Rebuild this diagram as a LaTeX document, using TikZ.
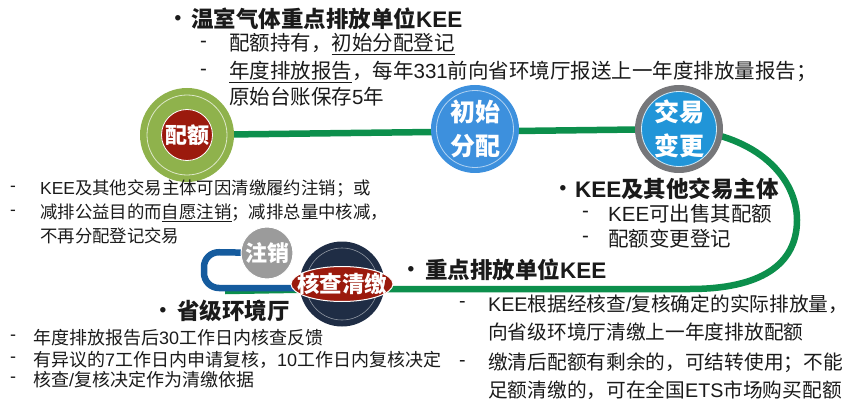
\documentclass[tikz,border=0pt]{standalone}
\usepackage{fontspec}
\setmainfont{Noto Sans CJK SC}
\newfontfamily\lat{Liberation Sans}
\definecolor{lgreen}{HTML}{8FB24C}
\definecolor{dred}{HTML}{9B1A0D}
\definecolor{pathgreen}{HTML}{0C8F4C}
\definecolor{pathblue}{HTML}{155B9E}
\definecolor{cblue}{HTML}{3D90DD}
\definecolor{cblue2}{HTML}{2195D8}
\definecolor{cgray}{HTML}{76777A}
\definecolor{lgray}{HTML}{9B9B9B}
\definecolor{navy}{HTML}{1F2D45}
\definecolor{txtc}{HTML}{1A1A1A}
\tikzset{
  tx/.style={anchor=west, inner sep=0pt, text=txtc},
  hd/.style={tx, font=\fontsize{22.5}{26}\selectfont\bfseries},
  bul/.style={inner sep=0pt, anchor=center, text=txtc, font=\fontsize{19}{20}\selectfont\lat\bfseries},
  ta/.style={tx, font=\fontsize{20.5}{24}\selectfont},
  tl/.style={tx, font=\fontsize{17.4}{21}\selectfont},
  tb/.style={tx, font=\fontsize{18}{21}\selectfont},
  tr/.style={tx, font=\fontsize{19.7}{23}\selectfont},
  ctext/.style={text=white, inner sep=0pt, align=center, font=\fontsize{25}{34}\selectfont\bfseries},
  gline/.style={draw=pathgreen, line width=6.5pt},
  bline/.style={draw=pathblue, line width=6.5pt, rounded corners=15pt},
}
\begin{document}
\begin{tikzpicture}[x=1pt,y=-1pt]
\useasboundingbox (0,0) rectangle (865,401);
% centres
\coordinate (cP) at (187,135);
\coordinate (cI) at (475,129);
\coordinate (cJ) at (679,129);
\coordinate (cZ) at (267,253);
\coordinate (cH) at (342,284);
\coordinate (gA) at (797,220);
\coordinate (gB) at (690,289);
\coordinate (bA) at (204,252);
\coordinate (bB) at (204,288);
\coordinate (gL) at (225,291);
% paths
\draw[gline] (cP) -- (cJ) .. controls (760,134) and (797,180) .. (gA)
   .. controls (797,265) and (760,289) .. (gB) -- (342,289) -- (gL);
\draw[bline] (cZ) -- (bA) -- (bB) -- (cH |- bB);
% 配额
\fill[lgreen] (cP) circle (47);
\draw[white, opacity=0.7, line width=0.8pt] (cP) circle (40);
\fill[dred, draw=white, line width=0.8pt] (cP) circle (25.5);
\node[ctext, font=\fontsize{22}{26}\selectfont\bfseries] (pe) at (cP) {配额};
% 初始分配
\fill[cblue] (cI) circle (44);
\draw[white, opacity=0.6, line width=0.8pt] (cI) circle (38.5);
\node[ctext] (cs) at (cI) {初始\\分配};
% 交易变更
\fill[cgray] (cJ) circle (44);
\fill[cblue2, draw=white!80!cblue2, line width=0.8pt] (cJ) circle (37.5);
\node[ctext] (jy) at (cJ) {交易\\变更};
% 注销
\fill[lgray, draw=white, line width=1pt] (cZ) circle (26);
\node[ctext, font=\fontsize{22}{26}\selectfont\bfseries] (zx) at (cZ) {注销};
% 核查清缴
\fill[navy] (cH) circle (42.5);
\draw[white, opacity=0.5, line width=0.6pt] (cH) circle (36);
\fill[dred, draw=white, line width=1pt] (cH) ellipse (51 and 17.5);
\node[ctext, font=\fontsize{22.5}{26}\selectfont\bfseries] (hc) at (cH) {核查清缴};
% top block
\node[bul] (b1) at (178,20) {•};
\node[hd] (t0) at (191,19) {温室气体重点排放单位{\lat KEE}};
\node[ta] (d1) at (200,44) {\lat -};
\node[ta] (t1) at (229,44) {配额持有，\underline{初始分配登记}};
\node[ta] (d2) at (200,72) {\lat -};
\node[ta] (t2) at (229,72) {\underline{年度排放报告}，每年{\lat 331}前向省环境厅报送上一年度排放量报告；};
\node[ta] (t3) at (229,97) {原始台账保存{\lat 5}年};
% left block
\node[tl] (d3) at (10,189) {\lat -};
\node[tl] (t4) at (40,189) {{\lat KEE}及其他交易主体可因清缴履约注销；或};
\node[tl] (d4) at (10,213) {\lat -};
\node[tl] (t5) at (40,213) {减排公益目的而\underline{自愿注销}；减排总量中核减，};
\node[tl] (t6) at (40,236) {不再分配登记交易};
% right middle block
\node[bul] (b2) at (563,190) {•};
\node[hd] (t7) at (575,189) {{\lat KEE}及其他交易主体};
\node[ta] (d5) at (582,214) {\lat -};
\node[ta] (t8) at (608,214) {{\lat KEE}可出售其配额};
\node[ta] (d6) at (582,239) {\lat -};
\node[ta] (t9) at (608,239) {配额变更登记};
\node[bul] (b3) at (411,271) {•};
\node[hd] (t10) at (425,270) {重点排放单位{\lat KEE}};
% bottom left block
\node[bul] (b4) at (163,312) {•};
\node[hd] (t11) at (177,311) {省级环境厅};
\node[tb] (d7) at (10,338) {\lat -};
\node[tb] (t12) at (33,338) {年度排放报告后{\lat 30}工作日内核查反馈};
\node[tb] (d8) at (10,360) {\lat -};
\node[tb] (t13) at (33,360) {有异议的{\lat 7}工作日内申请复核，{\lat 10}工作日内复核决定};
\node[tb] (d9) at (10,380) {\lat -};
\node[tb] (t14) at (33,380) {核查{\lat /}复核决定作为清缴依据};
% bottom right block
\node[tr] (d10) at (459,304) {\lat -};
\node[tr] (t15) at (488,304) {{\lat KEE}根据经核查{\lat /}复核确定的实际排放量，};
\node[tr] (t16) at (488,332) {向省级环境厅清缴上一年度排放配额};
\node[tr] (d11) at (459,363) {\lat -};
\node[tr] (t17) at (488,363) {缴清后配额有剩余的，可结转使用；不能};
\node[tr] (t18) at (488,390) {足额清缴的，可在全国{\lat ETS}市场购买配额};
\end{tikzpicture}
\end{document}
